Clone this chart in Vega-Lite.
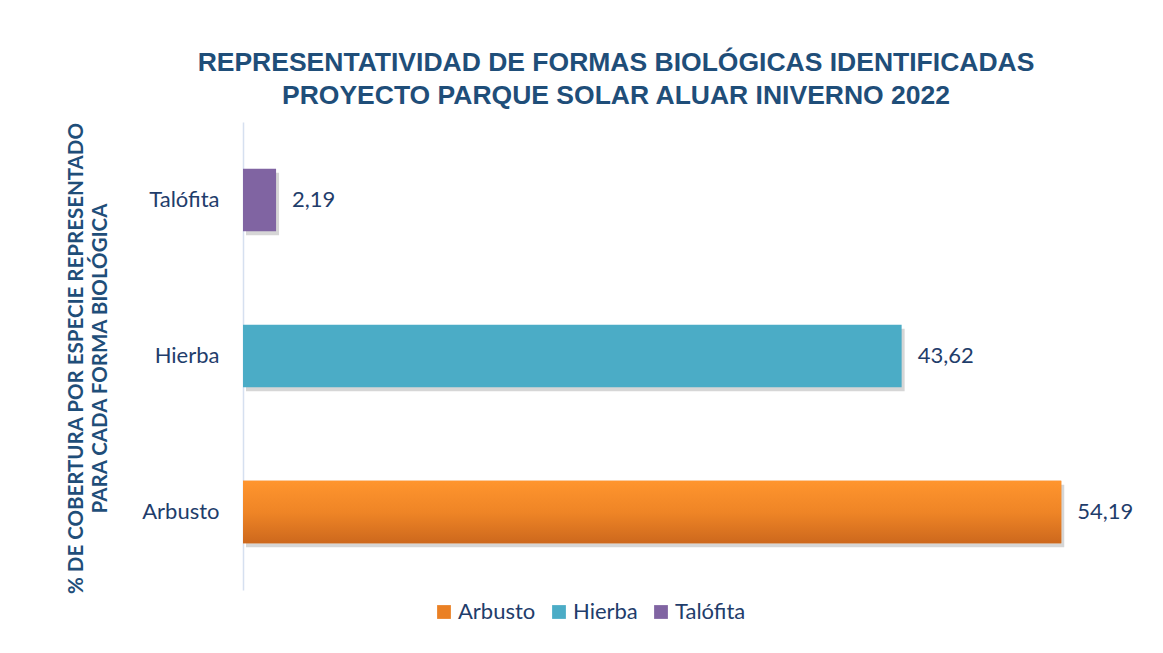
{
  "$schema": "https://vega.github.io/schema/vega-lite/v6.json",
  "autosize": "none",
  "width": 880,
  "height": 468,
  "padding": {"left": 243, "top": 122, "right": 40, "bottom": 63},
  "background": "white",
  "config": {
    "view": {"stroke": null},
    "locale": {"number": {"decimal": ",", "thousands": ".", "grouping": [3], "currency": ["", " €"]}}
  },
  "title": {
    "text": ["REPRESENTATIVIDAD DE FORMAS BIOLÓGICAS IDENTIFICADAS", "PROYECTO PARQUE SOLAR ALUAR INIVERNO 2022"],
    "font": "Liberation Sans",
    "fontSize": 26.5,
    "fontWeight": "bold",
    "color": "#1F4E79",
    "lineHeight": 33,
    "anchor": "middle",
    "frame": "group",
    "dx": -67,
    "offset": 13
  },
  "data": {
    "values": [
      {"forma": "Arbusto", "valor": 54.19},
      {"forma": "Hierba", "valor": 43.62},
      {"forma": "Talófita", "valor": 2.19}
    ]
  },
  "encoding": {
    "y": {
      "field": "forma",
      "type": "nominal",
      "sort": ["Talófita", "Hierba", "Arbusto"],
      "scale": {"paddingInner": 0.6, "paddingOuter": 0.3},
      "axis": {
        "title": ["% DE COBERTURA POR ESPECIE REPRESENTADO", "PARA CADA FORMA BIOLÓGICA"],
        "titleFont": "Lato",
        "titleFontSize": 20.5,
        "titleFontWeight": "bold",
        "titleColor": "#1F4E79",
        "titleLineHeight": 24,
        "titleAngle": -90,
        "titleAlign": "center",
        "titleBaseline": "top",
        "titleX": -177,
        "titleY": 236,
        "labelFont": "Lato",
        "labelFontSize": 22,
        "labelColor": "#1F3D6B",
        "labelPadding": 24,
        "ticks": false,
        "domainColor": "#D6E0F0",
        "domainWidth": 1.5
      }
    },
    "x": {
      "field": "valor",
      "type": "quantitative",
      "scale": {"domain": [0, 58.28]},
      "axis": null
    }
  },
  "layer": [
    {
      "mark": {"type": "bar", "color": "#000000", "opacity": 0.16, "xOffset": 3, "yOffset": 4}
    },
    {
      "mark": {"type": "bar", "opacity": 1},
      "encoding": {
        "color": {
          "field": "forma",
          "type": "nominal",
          "scale": {
            "domain": ["Arbusto", "Hierba", "Talófita"],
            "range": ["#EA8024", "#4BACC6", "#8064A2"]
          },
          "legend": {
            "title": null,
            "orient": "none",
            "direction": "horizontal",
            "legendX": 190,
            "legendY": 479,
            "symbolType": "square",
            "symbolSize": 190,
            "symbolStrokeWidth": 0,
            "symbolOpacity": 1,
            "labelFont": "Lato",
            "labelFontSize": 22,
            "labelColor": "#1F3D6B",
            "labelOffset": 3,
            "columnPadding": 12
          }
        }
      }
    },
    {
      "transform": [{"filter": "datum.forma === 'Arbusto'"}],
      "mark": {
        "type": "bar",
        "fill": {"gradient": "linear", "x1": 0, "y1": 0, "x2": 0, "y2": 1, "stops": [{"offset": 0, "color": "#FF952E"}, {"offset": 0.5, "color": "#EF8526"}, {"offset": 1, "color": "#CD681D"}]}
      }
    },
    {
      "mark": {"type": "text", "align": "left", "dx": 16, "font": "Lato", "fontSize": 22, "color": "#1F3D6B"},
      "encoding": {
        "text": {"field": "valor", "type": "quantitative", "format": ".2f"}
      }
    }
  ]
}
